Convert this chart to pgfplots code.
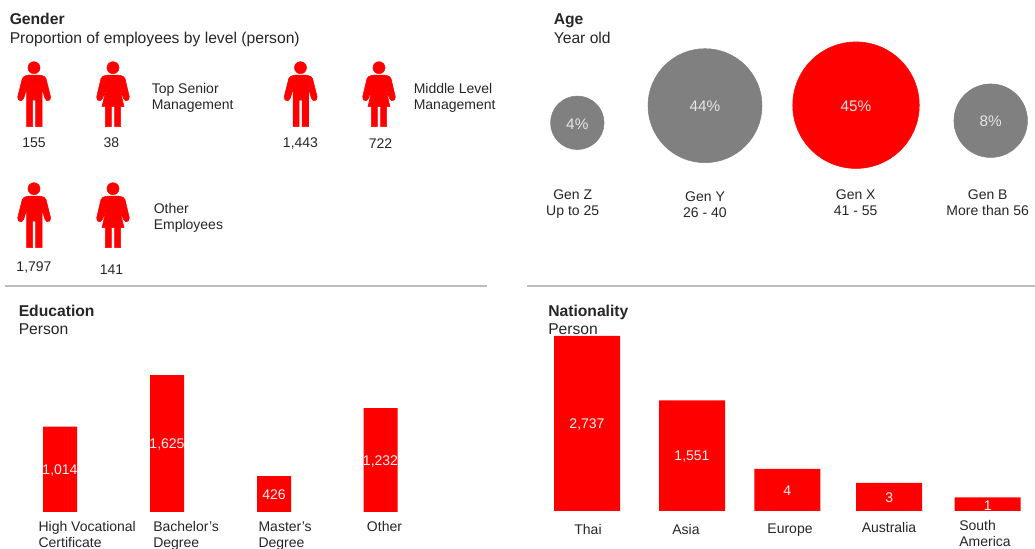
\documentclass[border=0pt]{standalone}
\usepackage{pgfplots}
\pgfplotsset{compat=1.18}
\usepackage{fontspec}
\setmainfont{Liberation Sans}
\definecolor{ink}{HTML}{262626}
\definecolor{rulegray}{HTML}{BDBDBD}
\definecolor{bubblegray}{HTML}{808080}
\definecolor{barred}{HTML}{FF0000}
\definecolor{onred}{HTML}{FFF0F0}
\newcommand{\bodyfont}{\fontsize{10.5pt}{12pt}\selectfont}
\newcommand{\headfont}{\fontsize{11.75pt}{13pt}\selectfont}
\newcommand{\lift}[2]{\raisebox{#1}[0pt][0pt]{#2}}

% Pictograms, drawn around the centre of the head
\pgfdeclareplotmark{man}{%
  \fill[barred,x=0.25pt,y=-0.25pt] (0,0) circle[radius=18];
  \fill[barred,x=0.25pt,y=-0.25pt,rounded corners=1.2pt]
    (-19,22) -- (-34,28) -- (-50,92) -- (-42,101) -- (-32,96) -- (-22,62)
    [sharp corners] -- (-22,177) -- (-4,177) -- (-4,97) -- (5,97) -- (5,177) -- (24,177) -- (24,62)
    [rounded corners=1.2pt] -- (34,96) -- (43,101) -- (51,92) -- (35,28) -- (19,22) -- cycle;
}
\pgfdeclareplotmark{woman}{%
  \fill[barred,x=0.25pt,y=-0.25pt] (0,0) circle[radius=18];
  \fill[barred,x=0.25pt,y=-0.25pt,rounded corners=1.2pt]
    (-19,22) -- (-35,28) -- (-50,92) -- (-43,101) -- (-33,96) -- (-20,62)
    [sharp corners] -- (-33,117) -- (-23,117) -- (-23,177) -- (-5,177) -- (-5,117) -- (5,117)
    -- (5,177) -- (23,177) -- (23,117) -- (33,117) -- (20,62)
    [rounded corners=1.2pt] -- (33,96) -- (42,101) -- (50,92) -- (35,28) -- (19,22) -- cycle;
}

\pgfplotsset{
  barpanel/.style={
    scale only axis, clip=false,
    anchor=north west,
    ymajorticks=false,
    axis line style={draw=none},
    major tick length=0pt,
    every x tick label/.append style={font=\bodyfont,text=ink,inner sep=0pt},
    nodes near coords={\pgfmathprintnumber[assume math mode=true,1000 sep={,}]{\pgfplotspointmeta}},
    nodes near coords style={anchor=center,inner sep=0pt,font=\bodyfont,text=onred,yshift=-\halfbar*0.75pt-0.75pt},
    visualization depends on={\thisrow{half}\as\halfbar},
  },
  headcount/.style={
    only marks, nodes near coords, point meta=explicit symbolic,
    visualization depends on={\thisrow{dy}\as\labdy},
    visualization depends on={\thisrow{dx}\as\labdx},
    nodes near coords style={anchor=center,inner sep=0pt,font=\bodyfont,text=ink,
      yshift=-\labdy*0.75pt,xshift=\labdx*0.75pt},
  },
  bubbles/.style={
    only marks, mark=*, scatter,
    scatter/use mapped color={draw=#1,fill=#1},
    visualization depends on={\thisrow{d}*0.375\as\bubblesize},
    scatter/@pre marker code/.append style={/tikz/mark size=\bubblesize},
    point meta=\thisrow{pct},
    nodes near coords*={\pgfmathprintnumber[assume math mode=true]{\pgfplotspointmeta}\%},
    nodes near coords style={anchor=center,inner sep=0pt,yshift=-0.75pt,font=\fontsize{11.5pt}{13pt}\selectfont,text=white!90!black},
  },
}

\begin{document}
\begin{tikzpicture}[x=0.75pt,y=0.75pt]
\path[use as bounding box] (0,0) rectangle (1035,549);

% Gender and age panels, titles and dividing rules
\begin{axis}[
  at={(0,0)}, anchor=south west, scale only axis,
  width=776.25pt, height=411.75pt,
  xmin=0, xmax=1035, ymin=0, ymax=549, y dir=reverse,
  hide axis, clip=false,
]
\addplot[headcount, mark=man] table[meta=count] {
x y count dy dx
34 67.7 155 75.2 0
300.5 67.7 1,443 76.2 0
34 188.7 1,797 79 0
};
\addplot[headcount, mark=woman] table[meta=count] {
x y count dy dx
113 67.7 38 75 -1.5
379 67.7 722 75.7 1.5
113 188.7 141 80.7 -1.5
};

\addplot[bubbles=bubblegray] table {
x y d pct
577.3 122.8 53.5 4
705 105.7 114 44
990.7 120.7 73.5 8
};
\addplot[bubbles=barred] table {
x y d pct
856 105.2 126.5 45
};

\draw[rulegray,line width=1.1pt] (axis cs:5,286) -- (axis cs:487,286);
\draw[rulegray,line width=1.1pt] (axis cs:527,286) -- (axis cs:1035,286);

\newcommand{\lefttext}[4][\bodyfont]{\node[anchor=base west,inner sep=0pt,text=ink,font=#1] at (axis cs:#2,#3) {#4};}
\newcommand{\midtext}[3]{\node[anchor=base,inner sep=0pt,text=ink,font=\bodyfont] at (axis cs:#1,#2) {#3};}

\lefttext[\headfont\bfseries]{9.5}{24.7}{Gender}
\lefttext[\headfont]{9.5}{43.3}{Proportion of employees by level (person)}
\lefttext[\headfont\bfseries]{553.5}{24.7}{Age}
\lefttext[\headfont]{553.5}{43.3}{Year old}
\lefttext[\headfont\bfseries]{18.5}{316.5}{Education}
\lefttext[\headfont]{18.5}{335}{Person}
\lefttext[\headfont\bfseries]{548}{316.5}{Nationality}
\lefttext[\headfont]{548}{335}{Person}

\lefttext{151.5}{94}{Top Senior}
\lefttext{151.5}{110}{Management}
\lefttext{413.5}{94}{Middle Level}
\lefttext{413.5}{110}{Management}
\lefttext{153.5}{213.5}{Other}
\lefttext{153.5}{229.5}{Employees}

\midtext{572.7}{199.7}{Gen Z}
\midtext{572.7}{215.5}{Up to 25}
\midtext{705}{202}{Gen Y}
\midtext{705}{218}{26 - 40}
\midtext{855.7}{199.7}{Gen X}
\midtext{855.7}{215.5}{41 - 55}
\midtext{987.7}{199.7}{Gen B}
\midtext{987.7}{215.5}{More than 56}
\end{axis}

% Education: linear scale, 0.0843 px per person
\begin{axis}[
  barpanel,
  at={(0,217)}, width=375pt, height=135pt,
  xmin=0, xmax=500, ymin=0, ymax=180,
  xtick={38.3,153,258.3,366.7},
  xticklabels={{\lift{0pt}{High Vocational}\\Certificate},{\lift{0pt}{Bachelor's}\\Degree},{\lift{0pt}{Master's}\\Degree},{\lift{0pt}{Other}}},
  x tick label style={anchor=north west,align=left,yshift=-14.25pt},
]
\addplot[ybar,bar width=25.5pt,bar shift=0pt,fill=barred,draw=none,point meta=\thisrow{v}]
  table[x=x,y expr={\thisrow{v}*0.0843}] {
x v half
60 1014 42.75
167 1625 68.5
274 426 18
380.5 1232 52
};
\end{axis}

% Nationality: the bar scale is compressed piecewise between the group sizes
\begin{axis}[
  barpanel,
  at={(527,213)}, width=381pt, height=131.25pt,
  xmin=527, xmax=1035, ymin=0, ymax=175,
  xtick={588,686,790,889,985},
  xticklabels={\lift{0pt}{Thai},\lift{0pt}{Asia},\lift{1pt}{Europe},\lift{2pt}{Australia},{\lift{3pt}{South}\\\lift{3pt}{America}}},
  x tick label style={anchor=north,align=left,yshift=-17.25pt},
]
\addplot[ybar,bar width=49.5pt,bar shift=0pt,fill=barred,draw=none,point meta=\thisrow{v}]
  table[x=x,y expr={ifthenelse(\thisrow{v}<=1,\thisrow{v}*13.5,
    ifthenelse(\thisrow{v}<=3,13.5+(\thisrow{v}-1)*7.25,
    ifthenelse(\thisrow{v}<=4,28+(\thisrow{v}-3)*14,
    ifthenelse(\thisrow{v}<=1551,42+(\thisrow{v}-4)*68.5/1547,
    110.5+(\thisrow{v}-1551)*64.5/1186))))}] {
x v half
587 2737 87.5
692 1551 55.25
787.3 4 21
889.2 3 14
987.7 1 6.75
};
\end{axis}
\end{tikzpicture}
\end{document}
